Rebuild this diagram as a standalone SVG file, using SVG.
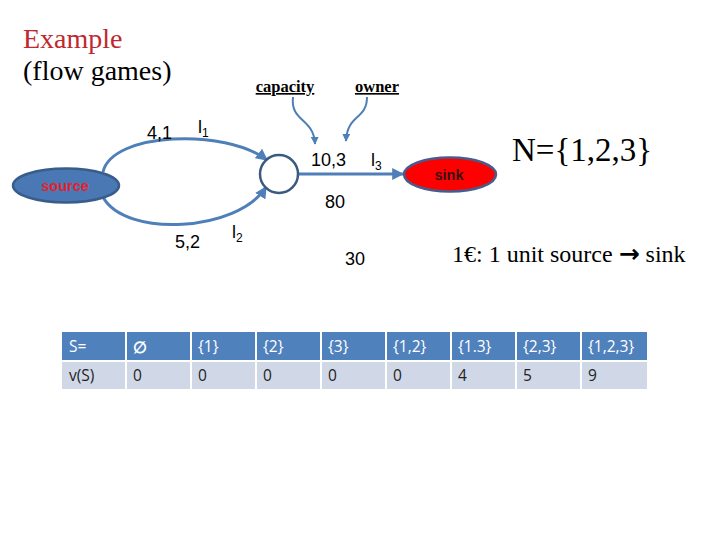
<svg xmlns="http://www.w3.org/2000/svg" width="720" height="540" viewBox="0 0 720 540">
<style>
.serif{font-family:"Liberation Serif","Times New Roman",serif}
.sans{font-family:"Liberation Sans",Arial,sans-serif}
.lbl{font-family:"Liberation Sans",Arial,sans-serif;font-size:18px;fill:#000}
.edge{fill:none;stroke:#4f7fb8;stroke-width:3}
.thin{fill:none;stroke:#4f7fb8;stroke-width:2}
.hd{fill:#4f81bd}
.rw{fill:#d0d8e8}
.ht{font-family:"Open Sans","Liberation Sans",sans-serif;font-size:15.5px;fill:#fff}
.rt{font-family:"Open Sans","Liberation Sans",sans-serif;font-size:15.5px;fill:#222}
</style>
<defs>
<marker id="ah" viewBox="0 0 10 10" refX="9" refY="5" markerWidth="4" markerHeight="4" orient="auto" markerUnits="strokeWidth">
<path d="M0,0 L10,5 L0,10 z" fill="#4f7fb8"/>
</marker>
<marker id="ahs" viewBox="0 0 10 10" refX="9" refY="5" markerWidth="4" markerHeight="4" orient="auto" markerUnits="strokeWidth">
<path d="M0,0 L10,5 L0,10 z" fill="#4f7fb8"/>
</marker>
</defs>
<rect width="720" height="540" fill="#fff"/>
<text class="serif" x="23" y="48" font-size="28" fill="#c0282d">Example</text>
<text class="serif" x="23" y="80" font-size="28" fill="#000">(flow games)</text>
<g id="connectors">
<path class="edge" d="M103,172 C112,132 225,128 267,160" marker-end="url(#ah)"/>
<path class="edge" d="M103,197 C125,238 238,232 266,187" marker-end="url(#ah)"/>
<path class="edge" d="M297,174 L403,174" marker-end="url(#ah)"/>
<path class="thin" d="M293,97 C290,122 314,118 315,144" marker-end="url(#ahs)"/>
<path class="thin" d="M367,97 C367,120 347,114 346,141" marker-end="url(#ahs)"/>
</g>
<g id="source">
<ellipse cx="66" cy="185.5" rx="53" ry="17" fill="#4a78b5" stroke="#385d8a" stroke-width="2.5"/>
<text class="sans" x="65" y="191" font-size="14.5" font-weight="bold" fill="#e8202a" text-anchor="middle">source</text>
</g>
<g id="junction">
<circle cx="279" cy="174" r="19" fill="#fff" stroke="#3b5a7f" stroke-width="2.5"/>
</g>
<g id="sink">
<ellipse cx="450" cy="174.5" rx="46" ry="17" fill="#ff0000" stroke="#4a5a8a" stroke-width="2.5"/>
<text class="sans" x="449" y="180" font-size="14.5" font-weight="bold" fill="#3a1010" text-anchor="middle">sink</text>
</g>
<g id="labels">
<text class="lbl" x="147" y="139">4,1</text>
<text class="lbl" x="198" y="133">l<tspan font-size="12" dy="4">1</tspan></text>
<text class="lbl" x="311" y="166">10,3</text>
<text class="lbl" x="371" y="166">l<tspan font-size="12" dy="4">3</tspan></text>
<text class="lbl" x="325" y="208">80</text>
<text class="lbl" x="175" y="248">5,2</text>
<text class="lbl" x="232" y="238">l<tspan font-size="12" dy="4">2</tspan></text>
<text class="lbl" x="345" y="265">30</text>
<text class="serif" x="285" y="92" font-size="16.5" font-weight="bold" text-anchor="middle" text-decoration="underline">capacity</text>
<text class="serif" x="377" y="92" font-size="16.5" font-weight="bold" text-anchor="middle" text-decoration="underline">owner</text>
<text class="serif" x="512" y="161" font-size="33">N={1,2,3}</text>
<text class="serif" x="452" y="262" font-size="24">1€: 1 unit source <tspan font-family="DejaVu Sans,sans-serif" font-weight="bold" font-size="25">→</tspan> sink</text>
</g>
<g id="table">
<rect class="hd" x="62" y="332" width="63" height="28"/>
<rect class="hd" x="127" y="332" width="63" height="28"/>
<rect class="hd" x="192" y="332" width="63" height="28"/>
<rect class="hd" x="257" y="332" width="63" height="28"/>
<rect class="hd" x="322" y="332" width="63" height="28"/>
<rect class="hd" x="387" y="332" width="63" height="28"/>
<rect class="hd" x="452" y="332" width="63" height="28"/>
<rect class="hd" x="517" y="332" width="63" height="28"/>
<rect class="hd" x="582" y="332" width="65" height="28"/>
<rect class="rw" x="62" y="362" width="63" height="27"/>
<rect class="rw" x="127" y="362" width="63" height="27"/>
<rect class="rw" x="192" y="362" width="63" height="27"/>
<rect class="rw" x="257" y="362" width="63" height="27"/>
<rect class="rw" x="322" y="362" width="63" height="27"/>
<rect class="rw" x="387" y="362" width="63" height="27"/>
<rect class="rw" x="452" y="362" width="63" height="27"/>
<rect class="rw" x="517" y="362" width="63" height="27"/>
<rect class="rw" x="582" y="362" width="65" height="27"/>
<text class="ht" x="69" y="352">S=</text>
<text class="ht" x="133" y="353" font-weight="bold" font-size="17">∅</text>
<text class="ht" x="198" y="352">{1}</text>
<text class="ht" x="263" y="352">{2}</text>
<text class="ht" x="328" y="352">{3}</text>
<text class="ht" x="393" y="352">{1,2}</text>
<text class="ht" x="458" y="352">{1.3}</text>
<text class="ht" x="523" y="352">{2,3}</text>
<text class="ht" x="588" y="352">{1,2,3}</text>
<text class="rt" x="69" y="381">v(S)</text>
<text class="rt" x="133" y="381">0</text>
<text class="rt" x="198" y="381">0</text>
<text class="rt" x="263" y="381">0</text>
<text class="rt" x="328" y="381">0</text>
<text class="rt" x="393" y="381">0</text>
<text class="rt" x="458" y="381">4</text>
<text class="rt" x="523" y="381">5</text>
<text class="rt" x="588" y="381">9</text>
</g>
</svg>
